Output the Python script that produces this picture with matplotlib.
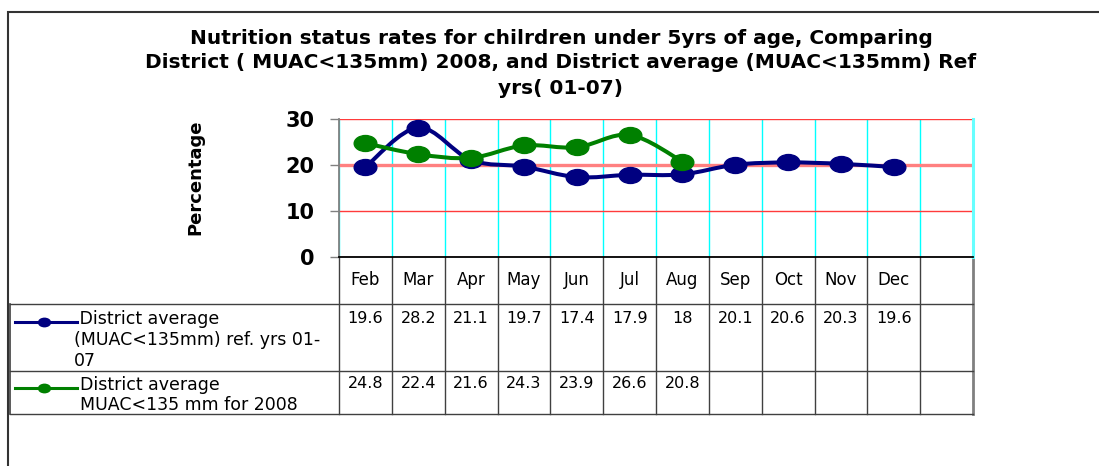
import matplotlib
matplotlib.use('Agg')
import matplotlib.pyplot as plt
import matplotlib.transforms as mtransforms
from matplotlib.lines import Line2D
from matplotlib.patches import Rectangle, PathPatch
from matplotlib.path import Path
import numpy as np

# data
months = ['Feb', 'Mar', 'Apr', 'May', 'Jun', 'Jul', 'Aug', 'Sep', 'Oct', 'Nov', 'Dec', '']
ref_avg = [19.6, 28.2, 21.1, 19.7, 17.4, 17.9, 18, 20.1, 20.6, 20.3, 19.6]
avg_2008 = [24.8, 22.4, 21.6, 24.3, 23.9, 26.6, 20.8]
ref_label = ' District average\n(MUAC<135mm) ref. yrs 01-\n07'
label_2008 = 'District average\nMUAC<135 mm for 2008'
yticks = [0, 10, 20, 30]
title = ('Nutrition status rates for chilrdren under 5yrs of age, Comparing\n'
         'District ( MUAC<135mm) 2008, and District average (MUAC<135mm) Ref\n'
         'yrs( 01-07)')

BLUE = '#000080'
GREEN = '#008000'
GRIDC = '#404040'

W, H = 1099, 466
fig = plt.figure(figsize=(W / 100, H / 100), dpi=100)
plt.rcParams['font.family'] = ['DejaVu Sans']


def fx(px):
    return px / W


def fy(py):
    return 1 - py / H


ax = fig.add_axes([fx(339), fy(257), fx(973) - fx(339), fy(119.3) - fy(257)])


def smooth_path(xs, ys):
    # bezier segments like excel's smoothed line
    p = np.column_stack([xs, ys]).astype(float)
    ext = np.vstack([p[0], p, p[-1]])
    verts = [p[0]]
    codes = [Path.MOVETO]
    for i in range(len(p) - 1):
        p0, p1, p2, p3 = ext[i], ext[i + 1], ext[i + 2], ext[i + 3]
        verts += [p1 + (p2 - p0) / 6, p2 - (p3 - p1) / 6, p2]
        codes += [Path.CURVE4] * 3
    return Path(verts, codes)


# ellipse marker, wider than tall
circ = Path.unit_circle()
ev = circ.vertices.copy()
ev[:, 0] *= 1.42
ellipse = Path(ev, circ.codes)

for vals, col in [(ref_avg, BLUE), (avg_2008, GREEN)]:
    xs = np.arange(len(vals))
    ax.add_patch(PathPatch(smooth_path(xs, vals), fill=False, edgecolor=col,
                           lw=2.9, capstyle='round', joinstyle='round', zorder=3))
    ax.plot(xs, vals, linestyle='none', marker=ellipse, ms=16.3, color=col, zorder=4)

ax.set_xlim(-0.5, len(months) - 0.5)
ax.set_ylim(0, 30)
ax.set_yticks(yticks)
ax.set_xticks(np.arange(-0.5, len(months), 1))
ax.set_xticklabels([])
ax.tick_params(axis='x', length=0)
ax.tick_params(axis='y', length=6.5, width=1, color='#808080', pad=11, labelsize=15)
for t in ax.get_yticklabels():
    t.set_fontweight('bold')
ax.grid(axis='x', color='#00ffff', lw=1)
ax.grid(axis='y', color='#ff3b3b', lw=1)
g20 = ax.get_ygridlines()[2]
g20.set_color('#ff8080')
g20.set_linewidth(2.4)
ax.set_axisbelow(True)
ax.spines['top'].set_visible(False)
ax.spines['right'].set_color('#66ffff')
ax.spines['right'].set_linewidth(2.2)
ax.spines['left'].set_color('#808080')
ax.spines['left'].set_linewidth(1.3)
ax.spines['bottom'].set_color('black')
ax.spines['bottom'].set_linewidth(1.3)

fig.text(fx(195), fy(177), 'Percentage', rotation=90, ha='center', va='center',
         fontsize=13, fontweight='bold')
fig.text(fx(561), fy(63), title, ha='center', va='center', fontsize=14.5,
         fontweight='bold', linespacing=1.4)

# data table under the chart
trans = mtransforms.blended_transform_factory(ax.transData, fig.transFigure)
for yy in [304, 371, 414]:
    fig.add_artist(Line2D([fx(10), fx(973)], [fy(yy), fy(yy)], color=GRIDC, lw=1))
fig.add_artist(Line2D([fx(10), fx(10)], [fy(304), fy(414)], color=GRIDC, lw=1.2))
for b in np.arange(-0.5, len(months), 1):
    ax.add_artist(Line2D([b, b], [fy(257), fy(414)], transform=trans,
                         color=GRIDC if b < len(months) - 1 else '#808080',
                         lw=1 if b < len(months) - 1 else 2, clip_on=False))
for i, m in enumerate(months):
    ax.text(i, fy(280), m, transform=trans, ha='center', va='center', fontsize=12)
for i, v in enumerate(ref_avg):
    ax.text(i, fy(318.5), f'{v:g}', transform=trans, ha='center', va='center', fontsize=11.5)
for i, v in enumerate(avg_2008):
    ax.text(i, fy(383), f'{v:g}', transform=trans, ha='center', va='center', fontsize=11.5)

fig.text(fx(74), fy(340), ref_label, ha='left', va='center', fontsize=12.5, linespacing=1.18)
fig.text(fx(80), fy(395), label_2008, ha='left', va='center', fontsize=12.5, linespacing=1.18)
for yy, col in [(322, BLUE), (388, GREEN)]:
    fig.add_artist(Line2D([fx(15), fx(44), fx(77)], [fy(yy)] * 3, color=col, lw=2.2,
                          marker=ellipse, ms=8.6, markevery=[1]))

# outer chart frame, runs off the right and bottom edges
fig.add_artist(Rectangle((fx(7.5), -0.1), 1.2, fy(11.5) + 0.1, transform=fig.transFigure,
                         fill=False, edgecolor='#333333', lw=1.5))

fig.savefig('out.png', dpi=100)
